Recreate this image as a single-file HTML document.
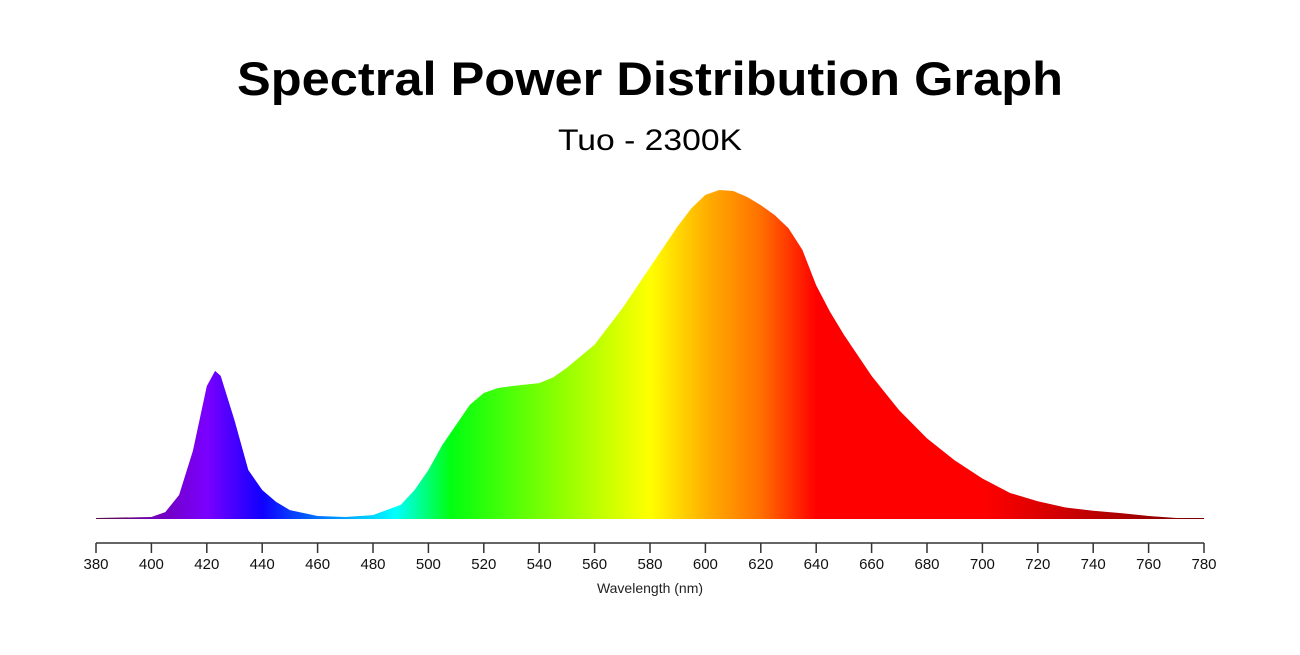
<!DOCTYPE html>
<html><head><meta charset="utf-8"><style>
html,body{margin:0;padding:0;background:#fff;}
body{width:1300px;height:650px;overflow:hidden;font-family:"Liberation Sans",sans-serif;}
</style></head><body>
<svg id="chart" width="1300" height="650" xmlns="http://www.w3.org/2000/svg">
<defs>
<linearGradient id="spec" gradientUnits="userSpaceOnUse" x1="96" y1="0" x2="1204" y2="0">
<stop offset="0" stop-color="#5a1040"/>
<stop offset="0.05" stop-color="#7000b0"/>
<stop offset="0.1" stop-color="#7a00ff"/>
<stop offset="0.15" stop-color="#1000ff"/>
<stop offset="0.2" stop-color="#0070ff"/>
<stop offset="0.27" stop-color="#00ffff"/>
<stop offset="0.32" stop-color="#00ff10"/>
<stop offset="0.42" stop-color="#90ff00"/>
<stop offset="0.5" stop-color="#ffff00"/>
<stop offset="0.55" stop-color="#ffb000"/>
<stop offset="0.6" stop-color="#ff7000"/>
<stop offset="0.65" stop-color="#ff0000"/>
<stop offset="0.8" stop-color="#ff0000"/>
<stop offset="1" stop-color="#7a0000"/>
</linearGradient>
</defs>
<text x="650" y="95" text-anchor="middle" font-size="47" font-weight="bold" fill="#000" textLength="826" lengthAdjust="spacingAndGlyphs">Spectral Power Distribution Graph</text>
<text x="650" y="150" text-anchor="middle" font-size="30" fill="#000" textLength="184" lengthAdjust="spacingAndGlyphs">Tuo - 2300K</text>
<g id="plot"></g>
<text x="650" y="593" text-anchor="middle" font-size="14" fill="#222">Wavelength (nm)</text>
</svg>
<script>
const wavelengths=[380,400,405,410,415,420,423,425,430,435,440,445,450,460,470,480,490,495,500,505,510,515,520,525,530,540,545,550,560,570,580,590,595,600,605,610,615,620,625,630,635,640,645,650,660,670,680,690,700,710,720,730,740,750,760,770,780];
const intensity=[0.3,0.6,2.1,7.3,20.7,40.4,45,43.5,30,14.9,8.8,5.2,2.7,0.9,0.6,1.2,4.3,8.8,14.9,22.5,28.6,34.7,38.3,39.8,40.4,41.3,43,46,53,64,76.5,89,94.5,98.5,100,99.7,97.9,95.4,92.4,88.4,81.8,71,63,56,43.5,33,24.5,17.8,12.3,7.9,5.4,3.5,2.5,1.8,0.9,0.3,0.3];
const ticks=[380,400,420,440,460,480,500,520,540,560,580,600,620,640,660,680,700,720,740,760,780];
const NS="http://www.w3.org/2000/svg";
const xs=w=>96+(w-380)*(1204-96)/400;
const ys=v=>519-v*3.29;
const g=document.getElementById('plot');
let d=`M${xs(wavelengths[0])},${ys(0)}`;
wavelengths.forEach((w,i)=>{d+=` L${xs(w).toFixed(1)},${ys(intensity[i]).toFixed(1)}`;});
d+=` L${xs(wavelengths[wavelengths.length-1])},${ys(0)} Z`;
const p=document.createElementNS(NS,'path');
p.setAttribute('d',d);p.setAttribute('fill','url(#spec)');


g.appendChild(p);
const ax=document.createElementNS(NS,'line');
ax.setAttribute('x1',96);ax.setAttribute('x2',1204);ax.setAttribute('y1',543);ax.setAttribute('y2',543);
ax.setAttribute('stroke','#333');ax.setAttribute('stroke-width','1.5');


g.appendChild(ax);
ticks.forEach(t=>{
 const l=document.createElementNS(NS,'line');
 l.setAttribute('x1',xs(t));l.setAttribute('x2',xs(t));l.setAttribute('y1',543);l.setAttribute('y2',553);
 l.setAttribute('stroke','#333');l.setAttribute('stroke-width','1.5');
 
 
 g.appendChild(l);
 const tx=document.createElementNS(NS,'text');
 tx.setAttribute('x',xs(t));tx.setAttribute('y',569);tx.setAttribute('text-anchor','middle');
 tx.setAttribute('font-size','15');tx.setAttribute('fill','#111');
 tx.textContent=t;
 
 
 g.appendChild(tx);
});
</script>
</body></html>
